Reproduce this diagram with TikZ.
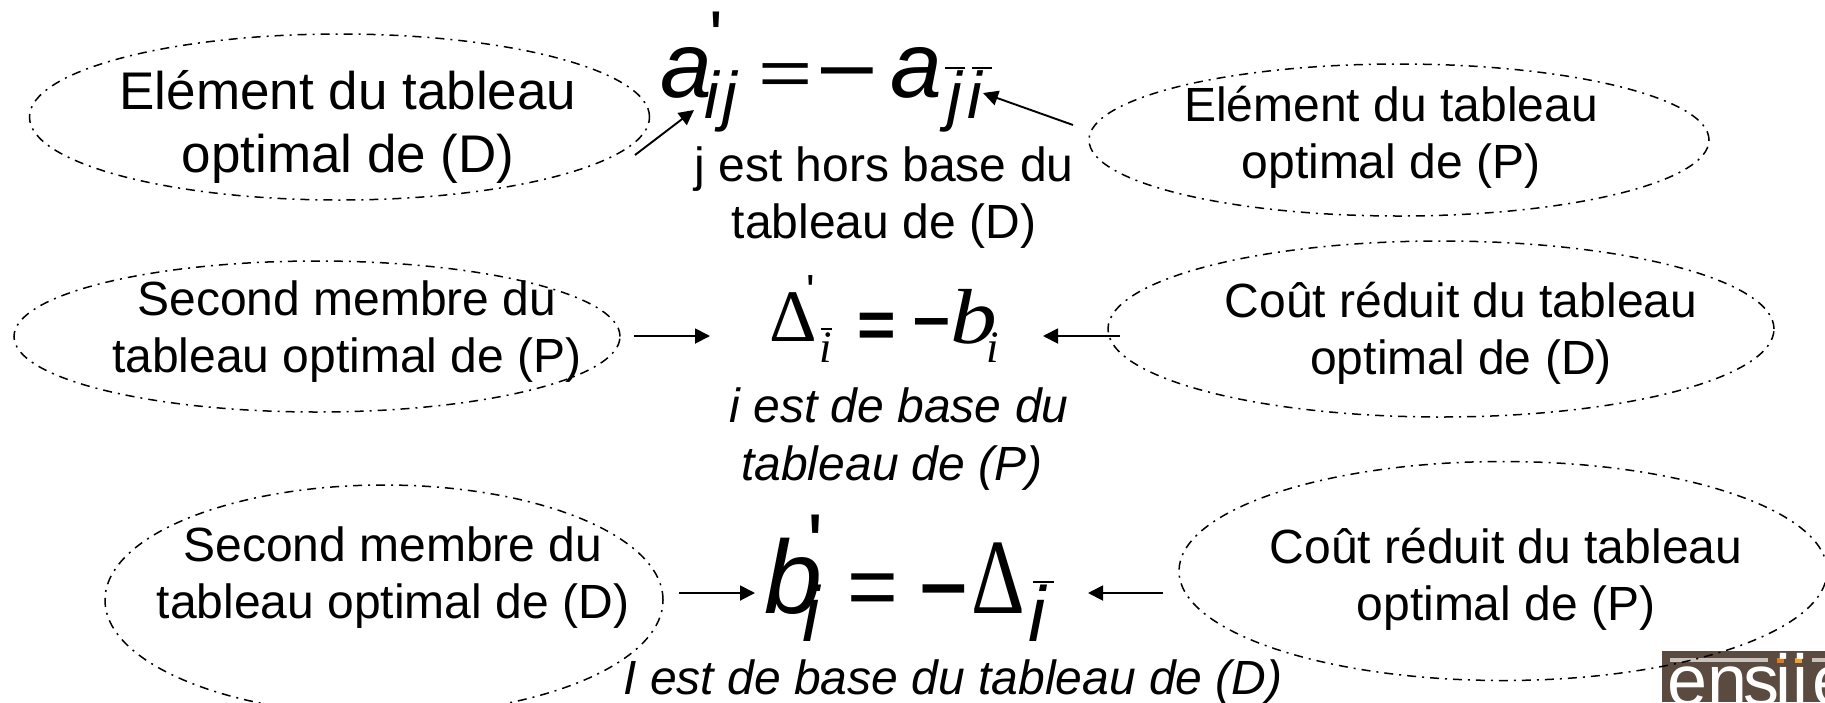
\documentclass[tikz,border=0pt]{standalone}
\usepackage{fontspec}
\setmainfont{Liberation Sans}
\newfontfamily\serifz{Liberation Serif}
\usetikzlibrary{arrows.meta,shapes.geometric}
\definecolor{logobrown}{HTML}{5B4A3F}
\definecolor{logobar}{HTML}{C9C2BC}
\definecolor{logoor}{HTML}{E07A1F}
\definecolor{logoyl}{HTML}{F0A030}
\newcommand{\fz}[1]{\fontsize{#1}{#1}\selectfont}
\tikzset{
  x=1pt,y=1pt,
  oval/.style={ellipse,draw=black,line width=1.5pt,dash pattern=on 9pt off 6pt on 2pt off 6pt,inner sep=0pt,outer sep=0pt},
  lab/.style={inner sep=0pt,outer sep=0pt,align=center,font=\fontsize{48}{57}\selectfont},
  labb/.style={inner sep=0pt,outer sep=0pt,align=center,font=\fontsize{53}{63}\selectfont},
  ital/.style={lab,font=\fontsize{48}{58}\selectfont\itshape},
  gl/.style={inner sep=0pt,outer sep=0pt,anchor=base west},
  arr/.style={line width=1.9pt,-{Triangle[length=15pt,width=15pt]}},
  barl/.style={line width=1.6pt},
}
\begin{document}
\begin{tikzpicture}
\useasboundingbox (0,0) rectangle (1825,-702);
% logo
\begin{scope}
\clip (0,0) rectangle (1825,-702);
\fill[logobrown] (1662,-651) rectangle (1825,-702);
\fill[logobar] (1670,-658) rectangle (1768,-662);
\fill[logobar] (1812,-658) rectangle (1825,-662);
\fill[logoor] (1777,-658) rectangle (1784,-663);
\fill[logoyl] (1795,-658) rectangle (1802,-663);
\node[gl,text=white,font=\fz{72}] (logo) at (1667,-705) {en\kern-4pt s\kern-4pt i\kern1pt i\kern4pt e};
% ellipses
\node[oval,minimum width=620pt,minimum height=166pt] (e1) at (339.5,-117) {};
\node[oval,minimum width=620pt,minimum height=152pt] (e2) at (1399,-140) {};
\node[oval,minimum width=606pt,minimum height=151pt] (e3) at (317,-336.5) {};
\node[oval,minimum width=666pt,minimum height=176pt] (e4) at (1441,-329) {};
\node[oval,minimum width=558pt,minimum height=230pt] (e5) at (384,-600) {};
\node[oval,minimum width=648pt,minimum height=219pt] (e6) at (1503,-571) {};
\end{scope}
% labels
\node[labb] (t1) at (348,-127) {Elément du tableau\\optimal de (D)};
\node[lab] (t2) at (1391,-137) {Elément du tableau\\optimal de (P)};
\node[lab] (t3) at (347,-332) {Second membre du\\tableau optimal de (P)};
\node[lab] (t4) at (1461,-333) {Coût réduit du tableau\\optimal de (D)};
\node[lab] (t5) at (393,-578) {Second membre du\\tableau optimal de (D)};
\node[lab] (t6) at (1506,-579) {Coût réduit du tableau\\optimal de (P)};
\node[lab] (c1) at (884,-198) {j est hors base du\\tableau de (D)};
\node[ital] (c2) at (899,-439) {i est de base du\\tableau de (P)\hspace*{14pt}\mbox{}};
\node[ital] (c3) at (953,-682) {I est de base du tableau de (D)};
% formula 1
\node[gl,font=\fz{93}\itshape] (a1) at (660,-97) {a};
\node[gl,font=\fz{66}\itshape] (i1) at (704,-118) {i};
\node[gl,font=\fz{66}\itshape] (j1) at (722,-118) {j};
\node[gl,font=\fz{72}] (p1) at (709,-61) {\textquotesingle};
\node[gl,yscale=0.7,font=\fz{93}] (eq1) at (758,-95) {=};
\node[gl,font=\fz{93}] (mi1) at (821,-94) {–};
\node[gl,font=\fz{93}\itshape] (a2) at (890,-97) {a};
\node[gl,font=\fz{66}\itshape] (j3) at (947,-118) {j};
\node[gl,font=\fz{66}\itshape] (i5) at (967,-118) {i};
\draw[barl] (945,-68) -- (965,-68);
\draw[barl] (972,-68) -- (992,-68);
% formula 2
\node[gl,font=\serifz\fz{74}] (d2) at (769,-341) {Δ};
\node[gl,font=\serifz\fz{45}\itshape] (i2) at (819,-362) {i};
\node[gl,font=\fz{45}] (p2) at (806,-306) {\textquotesingle};
\draw[barl] (821,-329) -- (832,-329);
\node[gl,font=\fz{66}\bfseries] (eq2) at (857,-347) {=};
\node[gl,font=\fz{66}\bfseries] (mi2) at (913,-339) {–};
\node[gl,xscale=1.2,font=\serifz\fz{78}\itshape] (b2) at (950,-343) {b};
\node[gl,font=\serifz\fz{45}\itshape] (j2) at (986,-362) {i};
% formula 3
\node[gl,font=\fz{104}\itshape] (b3) at (764,-613) {b};
\node[gl,font=\fz{78}\itshape] (i3) at (802,-641) {i};
\node[gl,font=\fz{85}] (p3) at (807,-573) {\textquotesingle};
\node[gl,font=\fz{87}] (eq3) at (847,-616) {=};
\node[gl,font=\bfseries\fz{84}] (mi3) at (920,-611) {–};
\node[gl,xscale=0.78,font=\serifz\fz{107}] (d3) at (971,-613) {Δ};
\node[gl,font=\fz{78}\itshape] (i4) at (1028,-641) {i};
\draw[barl] (1033,-582) -- (1054,-582);
% connector ends
\coordinate (s1) at (635,-155); \coordinate (h1) at (694,-110);
\coordinate (s2) at (1073,-125); \coordinate (h2) at (983,-93);
\coordinate (s3) at (634,-336); \coordinate (h3) at (710,-336);
\coordinate (s4) at (1120,-336); \coordinate (h4) at (1043,-336);
\coordinate (s5) at (679,-593); \coordinate (h5) at (755,-593);
\coordinate (s6) at (1163,-593); \coordinate (h6) at (1088,-593);
\draw[arr] (s1) -- (h1);
\draw[arr] (s2) -- (h2);
\draw[arr] (s3) -- (h3);
\draw[arr] (s4) -- (h4);
\draw[arr] (s5) -- (h5);
\draw[arr] (s6) -- (h6);
\end{tikzpicture}
\end{document}
